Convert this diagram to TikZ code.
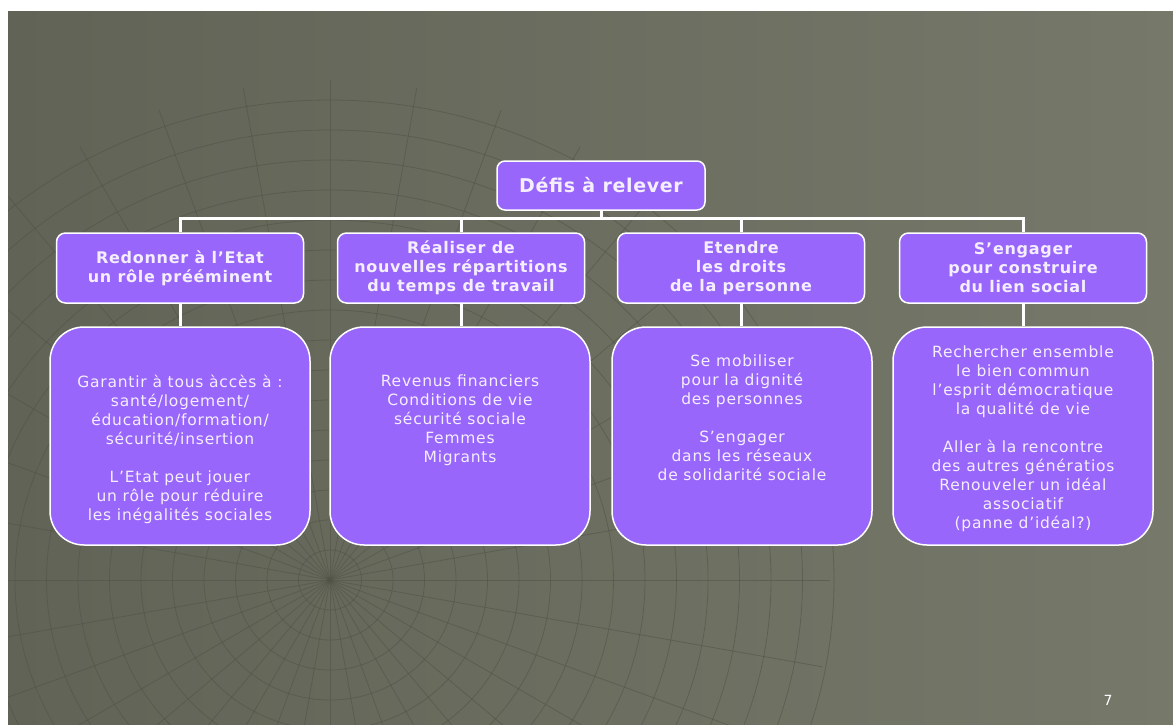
\documentclass[tikz,border=0pt]{standalone}
\usepackage{fontspec}
\setmainfont{DejaVu Sans}
\definecolor{boxfill}{HTML}{9966FB}
\definecolor{textlav}{HTML}{F4EEFF}
\definecolor{bgleft}{HTML}{616356}
\definecolor{bgright}{HTML}{76786A}
\definecolor{gridline}{HTML}{505246}
\begin{document}
\begin{tikzpicture}[x=1pt,y=-1pt,
    goal node/.style={draw=white,line width=1.5pt,fill=boxfill,rounded corners=8pt,
      minimum width=208pt,minimum height=49pt,text=textlav,
      font=\fontsize{19}{22}\selectfont\bfseries\addfontfeature{LetterSpace=3.5}},
    axis node/.style={draw=white,line width=1.5pt,fill=boxfill,rounded corners=9pt,
      minimum width=247pt,minimum height=70pt,text=textlav,align=center,
      font=\fontsize{16}{19}\selectfont\bfseries\addfontfeature{LetterSpace=4.5}},
    detail node/.style={draw=white,line width=1.5pt,fill=boxfill,rounded corners=34pt,
      minimum width=260pt,minimum height=218pt},
    detail text/.style={anchor=north,text=textlav,align=center,inner sep=0pt,
      font=\fontsize{15.5}{19}\selectfont\addfontfeature{LetterSpace=5}},
    link/.style={draw=white,line width=3pt},
    gridln/.style={draw=gridline,line width=0.8pt,opacity=0.55}
   ]
  % background
  \fill[white] (0,0) rectangle (1173,724);
  \shade[left color=bgleft,right color=bgright] (8,11) rectangle (1173,724);
  \begin{scope}
    \clip (8,11) rectangle (1173,724);
    \foreach \r in {30,60,...,480}
      \draw[gridln] (330,580) ellipse [x radius=\r*1.05, y radius=\r];
    \foreach \a in {0,10,...,350}
      \draw[gridln] (330,580) -- ++(\a:500);
  \end{scope}
  \useasboundingbox (0,0) rectangle (1173,724);

  % top
  \node[goal node] (defis) at (601,185.5) {Défis à relever};

  % axes
  \node[axis node] (etat) at (180,268) {Redonner à l’Etat\\un rôle prééminent};
  \node[axis node] (temps) at (461,268) {Réaliser de\\nouvelles répartitions\\du temps de travail};
  \node[axis node] (droits) at (741,268) {Etendre\\les droits\\de la personne};
  \node[axis node] (lien) at (1023,268) {S’engager\\pour construire\\du lien social};

  % details
  \node[detail node] (detat) at (180,436) {};
  \node[detail node] (dtemps) at (460,436) {};
  \node[detail node] (ddroits) at (742,436) {};
  \node[detail node] (dlien) at (1023,436) {};

  \node[detail text] (tetat) at (180,375) {Garantir à tous àccès à :\\santé/logement/\\éducation/formation/\\sécurité/insertion\\[19pt]L’Etat peut jouer\\un rôle pour réduire\\les inégalités sociales};
  \node[detail text] (ttemps) at (460,375) {Revenus financiers\\Conditions de vie\\sécurité sociale\\Femmes\\Migrants};
  \node[detail text] (tdroits) at (742,355) {Se mobiliser\\pour la dignité\\des personnes\\[19pt]S’engager\\dans les réseaux\\de solidarité sociale};
  \node[detail text] (tlien) at (1023,346) {Rechercher ensemble\\le bien commun\\l’esprit démocratique\\la qualité de vie\\[19pt]Aller à la rencontre\\des autres génératios\\Renouveler un idéal\\associatif\\(panne d’idéal?)};

  % links
  \foreach \n in {etat,temps,droits,lien}
    \draw[link] (defis.south) -- ++(0,8) -| (\n.north);
  \draw[link] (etat.south) -- (detat.north);
  \draw[link] (temps.south) -- (dtemps.north -| temps.south);
  \draw[link] (droits.south) -- (ddroits.north -| droits.south);
  \draw[link] (lien.south) -- (dlien.north);

  % page number
  \node[text=white,font=\fontsize{14}{16}\selectfont] (page) at (1108,700) {7};
\end{tikzpicture}
\end{document}
